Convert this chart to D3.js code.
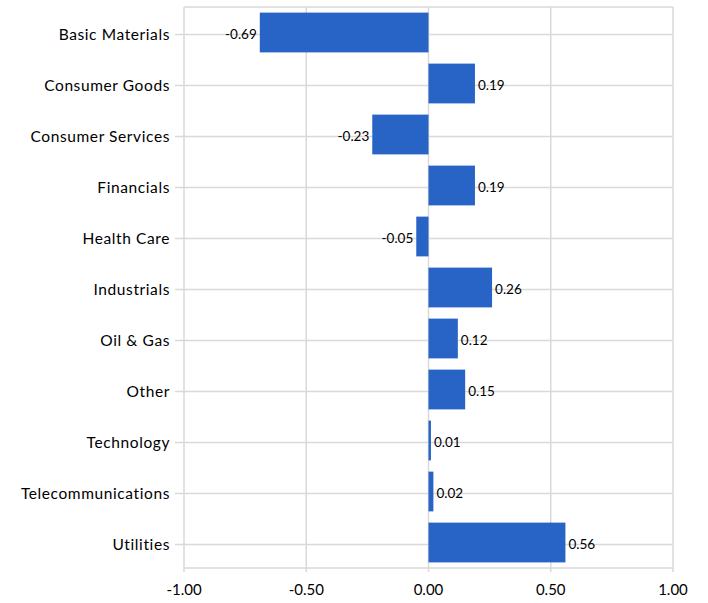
<!DOCTYPE html>
<html><head><meta charset="utf-8">
<script src="https://cdn.jsdelivr.net/npm/d3@7"></script>
<style>body{margin:0;background:#fff}svg{display:block}text{font-family:Lato,"Open Sans",sans-serif;fill:#000}</style>
</head><body>
<svg id="c" width="708" height="603"></svg>
<script>
const categories = ["Basic Materials","Consumer Goods","Consumer Services","Financials","Health Care","Industrials","Oil & Gas","Other","Technology","Telecommunications","Utilities"];
const values = [-0.69,0.19,-0.23,0.19,-0.05,0.26,0.12,0.15,0.01,0.02,0.56];
const xTicks = [-1,-0.5,0,0.5,1];

const svg = d3.select("#c");
const m = {left:184, right:673, top:7, bottom:568};
const x = d3.scaleLinear().domain([-1,1]).range([m.left,m.right]);
const y = d3.scaleBand().domain(categories).range([m.top,m.bottom]).paddingInner(0.22).paddingOuter(0.11);
const grid = "#d9d9d9";
const fmt = v => d3.format(".2f")(v).replace("\u2212","-");

svg.append("g").selectAll("line").data(xTicks).join("line")
  .attr("x1",d=>x(d)).attr("x2",d=>x(d)).attr("y1",m.top).attr("y2",m.bottom+4)
  .attr("stroke",grid).attr("stroke-width",1.5);
svg.append("line").attr("x1",m.left).attr("x2",m.right).attr("y1",m.top).attr("y2",m.top).attr("stroke",grid).attr("stroke-width",1.5);
svg.append("line").attr("x1",m.left).attr("x2",m.right).attr("y1",m.bottom).attr("y2",m.bottom).attr("stroke",grid).attr("stroke-width",1.5);
const yc = d => y(d)+y.bandwidth()/2+2;
svg.append("g").selectAll("line").data(categories).join("line")
  .attr("x1",m.left-9).attr("x2",m.right).attr("y1",yc).attr("y2",yc)
  .attr("stroke",grid).attr("stroke-width",1.5);

const data = categories.map((c,i)=>({c,v:values[i]}));
svg.append("g").selectAll("rect").data(data).join("rect")
  .attr("x",d=>x(Math.min(0,d.v))).attr("width",d=>Math.abs(x(d.v)-x(0)))
  .attr("y",d=>y(d.c)).attr("height",y.bandwidth())
  .attr("fill","#2863C6");

svg.append("g").selectAll("text").data(data).join("text")
  .attr("x",d=>d.v<0? x(d.v)-3 : x(d.v)+3)
  .attr("y",d=>yc(d.c)).attr("dy","0.3em")
  .attr("text-anchor",d=>d.v<0?"end":"start")
  .style("font-size","13.5px")
  .text(d=>fmt(d.v));

svg.append("g").selectAll("text").data(categories).join("text")
  .attr("x",m.left-14).attr("y",d=>yc(d)).attr("dy","0.35em")
  .attr("text-anchor","end").style("font-size","15.5px").style("letter-spacing","0.6px").text(d=>d);

svg.append("g").selectAll("text").data(xTicks).join("text")
  .attr("x",d=>x(d)).attr("y",590).attr("dy","0.35em").attr("text-anchor","middle")
  .style("font-size","15px").text(d=>fmt(d));
</script>
</body></html>
